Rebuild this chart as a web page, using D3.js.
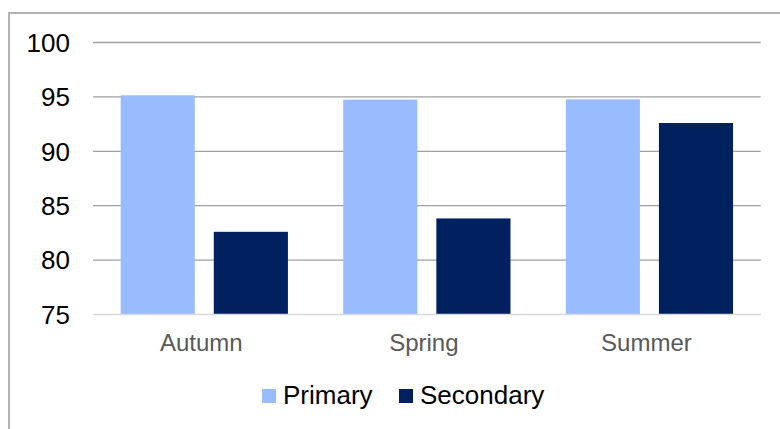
<!DOCTYPE html>
<html>
<head>
<meta charset="utf-8">
<script src="https://cdn.jsdelivr.net/npm/d3@7"></script>
<style>
  body { margin: 0; background: #fff; }
  svg { display: block; font-family: "Liberation Sans", Arial, sans-serif; }
</style>
</head>
<body>
<script>
var categories = ['Autumn', 'Spring', 'Summer'];
var seriesNames = ['Primary', 'Secondary'];
var primary = [95.15, 94.75, 94.78];
var secondary = [82.6, 83.83, 92.6];
var yTicks = [75, 80, 85, 90, 95, 100];
var colors = ['#99bbff', '#002060'];

var w = 780;
var h = 429;
var plotLeft = 93, plotRight = 760.7, plotTop = 42.5, plotBottom = 314.5;

var svg = d3.select('body')
            .append('svg')
            .attr('width', w)
            .attr('height', h);

// outer chart frame (runs off the bottom / right)
svg.append('rect')
  .attr('x', 9).attr('y', 13)
  .attr('width', 800).attr('height', 500)
  .attr('fill', 'none')
  .attr('stroke', '#b3b3b3')
  .attr('stroke-width', 2);

var x = d3.scaleBand().domain(categories).range([plotLeft, plotRight]).paddingInner(0).paddingOuter(0);
var xs = d3.scaleBand().domain(seriesNames).range([0, x.bandwidth()])
           .paddingInner(0.204).paddingOuter(0.297);
var y = d3.scaleLinear().domain([75, 100]).range([plotBottom, plotTop]);

// gridlines
svg.selectAll('line.grid')
  .data(yTicks.filter(d => d > 75))
  .enter()
  .append('line')
    .attr('class', 'grid')
    .attr('x1', plotLeft).attr('x2', plotRight)
    .attr('y1', d => y(d)).attr('y2', d => y(d))
    .attr('stroke', '#a0a0a0')
    .attr('stroke-width', 1.3);

// bars
var rows = categories.map((c, i) => ({ cat: c, vals: [primary[i], secondary[i]] }));
var groups = svg.selectAll('g.cat')
  .data(rows)
  .enter()
  .append('g')
    .attr('class', 'cat')
    .attr('transform', d => 'translate(' + x(d.cat) + ',0)');

groups.selectAll('rect')
  .data(d => d.vals.map((v, j) => ({ name: seriesNames[j], v: v, j: j })))
  .enter()
  .append('rect')
    .attr('x', d => xs(d.name))
    .attr('y', d => y(d.v))
    .attr('width', xs.bandwidth())
    .attr('height', d => y(75) - y(d.v))
    .attr('fill', d => colors[d.j]);

// baseline
svg.append('line')
  .attr('x1', plotLeft).attr('x2', plotRight)
  .attr('y1', y(75)).attr('y2', y(75))
  .attr('stroke', '#d9d9d9')
  .attr('stroke-width', 1.5);

// y axis labels
svg.selectAll('text.ytick')
  .data(yTicks)
  .enter()
  .append('text')
    .attr('class', 'ytick')
    .attr('x', 70)
    .attr('y', d => y(d))
    .attr('dy', '0.36em')
    .attr('text-anchor', 'end')
    .attr('font-size', '26px')
    .attr('fill', '#000')
    .text(d => d);

// x axis labels
svg.selectAll('text.xtick')
  .data(categories)
  .enter()
  .append('text')
    .attr('class', 'xtick')
    .attr('x', d => x(d) + x.bandwidth() / 2 - 3)
    .attr('y', 351)
    .attr('text-anchor', 'middle')
    .attr('font-size', '24px')
    .attr('fill', '#595959')
    .text(d => d);

// legend
var legendX = [262, 399];
var legend = svg.selectAll('g.legend')
  .data(seriesNames)
  .enter()
  .append('g')
    .attr('class', 'legend')
    .attr('transform', (d, i) => 'translate(' + legendX[i] + ',389)');

legend.append('rect')
  .attr('width', 14).attr('height', 14)
  .attr('fill', (d, i) => colors[i]);

legend.append('text')
  .attr('x', 21)
  .attr('y', 15.3)
  .attr('font-size', '26px')
  .attr('fill', '#000')
  .text(d => d);
</script>
</body>
</html>
